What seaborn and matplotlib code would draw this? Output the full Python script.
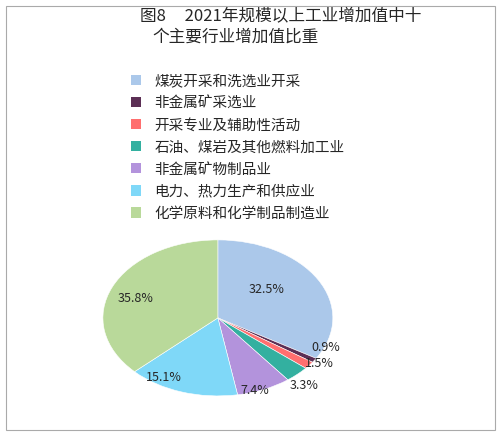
import matplotlib
matplotlib.use("Agg")
import matplotlib.pyplot as plt
import seaborn as sns
from matplotlib.patches import Rectangle, Patch

sns.set_theme(style="white")
plt.rcParams['font.family'] = ['Noto Sans CJK SC', 'DejaVu Sans']

categories = ["煤炭开采和洗选业开采", "非金属矿采选业", "开采专业及辅助性活动",
              "石油、煤岩及其他燃料加工业", "非金属矿物制品业", "电力、热力生产和供应业",
              "化学原料和化学制品制造业"]
values = [32.5, 0.9, 1.5, 3.3, 7.4, 15.1, 35.8]
labels = ["32.5%", "0.9%", "1.5%", "3.3%", "7.4%", "15.1%", "35.8%"]
colors = ["#abc8ea", "#5c2f55", "#ff6f6f", "#33b0a0", "#b393dc", "#7fd8f8", "#b9d99a"]

fig = plt.figure(figsize=(5.02, 4.37), dpi=100)
fig.patches.append(Rectangle((0.012, 0.015), 0.975, 0.972, transform=fig.transFigure,
                             fill=False, edgecolor="#aaaaaa", lw=0.8))
fig.text(0.56, 0.962, "图8     2021年规模以上工业增加值中十", ha="center", va="center", fontsize=12)
fig.text(0.47, 0.915, "个主要行业增加值比重", ha="center", va="center", fontsize=12)

ax = fig.add_axes([0.205, 0.094, 0.458, 0.357])
wedges, _ = ax.pie(values, colors=colors, startangle=90, counterclock=False,
                   wedgeprops=dict(linewidth=0.4, edgecolor="white"))
ax.set_aspect('auto')
ax.set_xlim(-1, 1); ax.set_ylim(-1, 1)
ax.axis('off')
pos = [(0.42, 0.37), (0.94, -0.38), (0.88, -0.58), (0.75, -0.87), (0.32, -0.93), (-0.47, -0.77), (-0.72, 0.25)]
for (x, y), t in zip(pos, labels):
    ax.text(x, y, t, ha="center", va="center", fontsize=9)

handles = [Patch(facecolor=c, edgecolor="none") for c in colors]
fig.legend(handles, categories, loc="upper left", bbox_to_anchor=(0.235, 0.86),
           frameon=False, fontsize=10.5, handlelength=0.7, handleheight=0.7,
           labelspacing=0.55, handletextpad=0.9)
fig.savefig("out.png", dpi=100)
